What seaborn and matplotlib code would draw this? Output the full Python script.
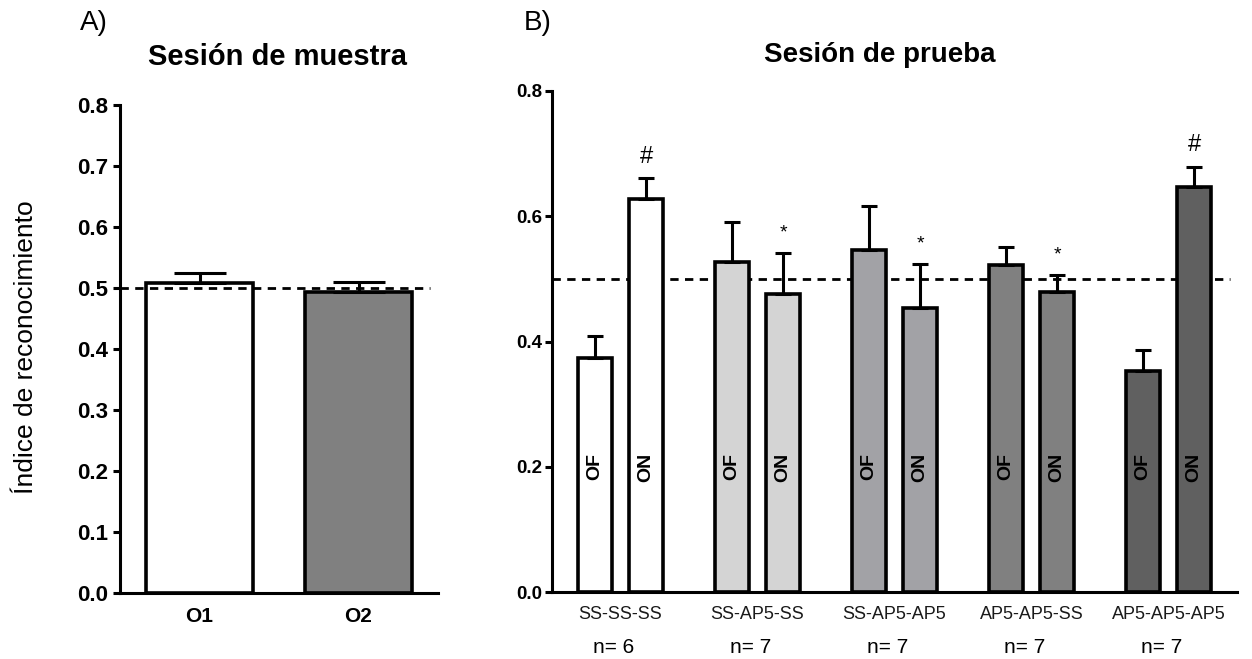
import numpy as np
import pandas as pd
import matplotlib
matplotlib.use("Agg")
import matplotlib.pyplot as plt
import seaborn as sns

# ---------------- data ----------------
sample_objects = ["O1", "O2"]
sample_means = [0.508, 0.494]
sample_sems = [0.017, 0.016]
sample_colors = ["#ffffff", "#808080"]

groups = ["SS-SS-SS", "SS-AP5-SS", "SS-AP5-AP5", "AP5-AP5-SS", "AP5-AP5-AP5"]
group_n = [6, 7, 7, 7, 7]
objects = ["OF", "ON"]
of_means = [0.373, 0.526, 0.546, 0.522, 0.353]
of_sems = [0.035, 0.064, 0.070, 0.029, 0.033]
on_means = [0.627, 0.475, 0.453, 0.479, 0.647]
on_sems = [0.034, 0.066, 0.071, 0.027, 0.032]
on_marks = ["#", "*", "*", "*", "#"]
group_colors = ["#ffffff", "#d4d4d4", "#a2a2a6", "#808080", "#606060"]

# ---------------- style ----------------
sns.set_theme(style="ticks", rc={"axes.edgecolor": "black", "text.color": "black",
                                 "xtick.color": "black", "ytick.color": "black",
                                 "axes.labelcolor": "black"})
plt.rcParams["font.family"] = ["Liberation Sans", "DejaVu Sans"]
plt.rcParams["axes.linewidth"] = 2.2

W, H = 1252, 659
fig = plt.figure(figsize=(W / 100, H / 100), dpi=100)

def fx(px):
    return px / W

def fy(py):
    return 1 - py / H

axA = fig.add_axes([fx(120), fy(593), fx(438 - 120), (593 - 105) / H])
axB = fig.add_axes([fx(552), fy(592.3), fx(1237 - 552), (592.3 - 90.7) / H])

EDGE = 2.6
ELW = 2.2

# ---------------- panel A ----------------
dfA = pd.DataFrame({"obj": sample_objects, "val": sample_means})
sns.barplot(data=dfA, x="obj", y="val", hue="obj", palette=sample_colors,
            width=0.67, edgecolor="black", linewidth=EDGE, errorbar=None,
            legend=False, ax=axA, saturation=1)
pA = sorted(axA.patches, key=lambda p: p.get_x())
cA = [p.get_x() + p.get_width() / 2 for p in pA]
axA.errorbar(cA, sample_means, yerr=[np.zeros(len(sample_sems)), sample_sems],
             fmt="none", ecolor="black", elinewidth=ELW, capsize=18.5,
             capthick=ELW, zorder=1)
axA.axhline(0.5, xmin=0, xmax=0.975, color="black", lw=2,
            linestyle=(0, (3, 2.3)), zorder=4)
axA.set_xlim(-0.5, 1.5)
axA.set_ylim(0, 0.8)
axA.set_yticks(np.arange(0, 0.81, 0.1))
axA.set_yticklabels([f"{v:.1f}" for v in np.arange(0, 0.81, 0.1)],
                    fontsize=16, fontweight="bold")
axA.set_xticks(range(len(sample_objects)))
axA.set_xticklabels(sample_objects, fontsize=15, fontweight="bold")
axA.tick_params(axis="y", length=5, width=2.2, pad=3.5, colors="black")
axA.tick_params(axis="x", length=0, pad=10, colors="black")
axA.set_xlabel("")
axA.set_ylabel("")
sns.despine(ax=axA)

# ---------------- panel B ----------------
rows = []
for g, m1, s1, m2, s2 in zip(groups, of_means, of_sems, on_means, on_sems):
    rows.append({"group": g, "obj": objects[0], "val": m1, "sem": s1})
    rows.append({"group": g, "obj": objects[1], "val": m2, "sem": s2})
dfB = pd.DataFrame(rows)

sns.barplot(data=dfB, x="group", y="val", hue="obj", hue_order=objects,
            order=groups, width=0.745, gap=0.315, edgecolor="black",
            linewidth=EDGE, errorbar=None, legend=False, ax=axB,
            palette=["#ffffff", "#ffffff"], saturation=1)
pB = sorted(axB.patches, key=lambda p: p.get_x())
cB = [p.get_x() + p.get_width() / 2 for p in pB]
for p, c in zip(pB, cB):
    p.set_facecolor(group_colors[int(round(c))])

axB.errorbar(cB, dfB["val"], yerr=[np.zeros(len(dfB)), dfB["sem"]],
             fmt="none", ecolor="black", elinewidth=ELW, capsize=6,
             capthick=ELW, zorder=1)
axB.axhline(0.5, xmin=0, xmax=0.99, color="black", lw=2,
            linestyle=(0, (3, 2.3)), zorder=0.5)

# OF / ON labels inside bars
for c, (_, r) in zip(cB, dfB.iterrows()):
    axB.text(c, 0.2, r["obj"], rotation=90, ha="center", va="center",
             fontsize=14, fontweight="bold", color="black")

# significance marks above ON bars
on_centers = cB[1::2]
for c, m, s, mk in zip(on_centers, on_means, on_sems, on_marks):
    if mk == "#":
        axB.text(c, m + s + 0.034, mk, ha="center", va="center", fontsize=17,
                 color="black")
    else:
        axB.text(c, m + s + 0.032, mk, ha="center", va="center", fontsize=14,
                 color="black")

axB.set_xlim(-0.5, 4.5)
axB.set_ylim(0, 0.8)
axB.set_yticks(np.arange(0, 0.81, 0.2))
axB.set_yticklabels([f"{v:.1f}" for v in np.arange(0, 0.81, 0.2)],
                    fontsize=13.5, fontweight="bold")
axB.set_xticks(range(len(groups)))
axB.set_xticklabels(groups, fontsize=13, color="#1a1a1a")
axB.tick_params(axis="y", length=5, width=2.2, pad=2, colors="black")
axB.tick_params(axis="x", length=0, pad=10)
axB.set_xlabel("")
axB.set_ylabel("")
sns.despine(ax=axB)

for i, n in enumerate(group_n):
    axB.text(i - 0.05, -0.11, f"n= {n}", transform=axB.get_xaxis_transform(),
             ha="center", va="center", fontsize=15, color="black")

# ---------------- figure texts ----------------
fig.text(fx(94), fy(23), "A)", fontsize=20, ha="center", va="center")
fig.text(fx(538), fy(23), "B)", fontsize=20, ha="center", va="center")
fig.text(fx(278), fy(65), "Sesión de muestra", fontsize=21,
         fontweight="bold", ha="center", va="baseline")
fig.text(fx(880), fy(62), "Sesión de prueba", fontsize=20,
         fontweight="bold", ha="center", va="baseline")
fig.text(fx(26), fy(347), "Índice de reconocimiento", fontsize=19,
         rotation=90, ha="center", va="center")

fig.savefig("out.png", dpi=100)
